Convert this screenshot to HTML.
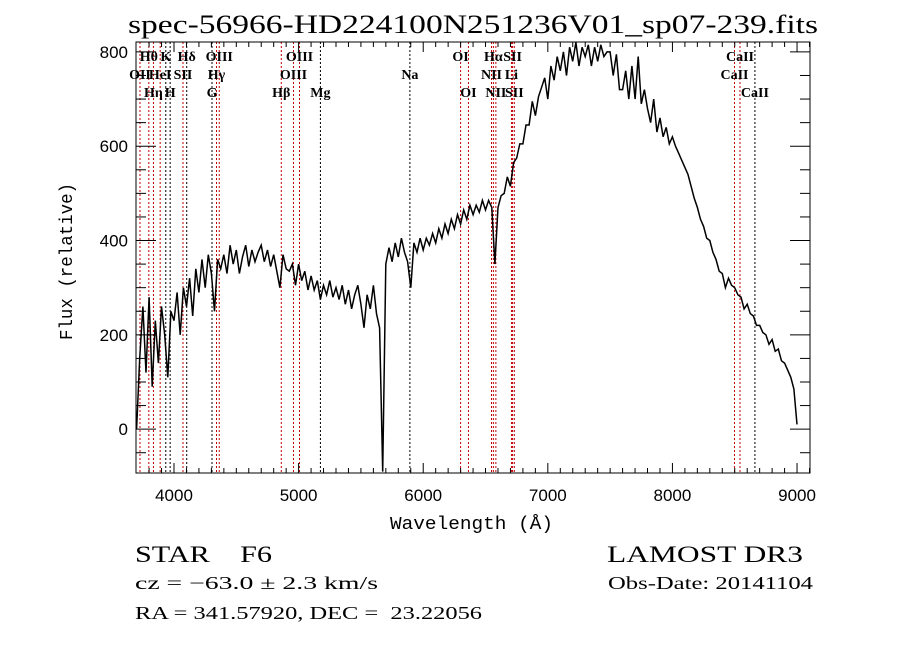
<!DOCTYPE html>
<html><head><meta charset="utf-8"><style>
html,body{margin:0;padding:0;background:#fff;}
svg{display:block;}
text{fill:#000;white-space:pre;}
</style></head><body>
<svg id="chart" width="900" height="649" viewBox="0 0 900 649" xmlns="http://www.w3.org/2000/svg" xml:space="preserve">
<rect width="900" height="649" fill="#fff"/>
<text x="128" y="33" textLength="690" lengthAdjust="spacingAndGlyphs" font-family="Liberation Serif, serif" font-size="26">spec-56966-HD224100N251236V01_sp07-239.fits</text>
<g id="lines"></g>
<g id="labels"></g>
<g id="series"></g>
<rect x="136" y="42" width="674" height="431" fill="none" stroke="#000" stroke-width="1"/>
<g id="axes"></g>
<text x="390" y="529" textLength="163" lengthAdjust="spacingAndGlyphs" font-family="Liberation Mono, monospace" font-size="18">Wavelength (Å)</text>
<text transform="translate(72,340) rotate(-90)" textLength="157" lengthAdjust="spacingAndGlyphs" font-family="Liberation Mono, monospace" font-size="18">Flux (relative)</text>
<text x="135" y="562" textLength="137" lengthAdjust="spacingAndGlyphs" font-family="Liberation Serif, serif" font-size="23">STAR    F6</text>
<text x="135" y="589" textLength="243" lengthAdjust="spacingAndGlyphs" font-family="Liberation Serif, serif" font-size="18">cz = −63.0 ± 2.3 km/s</text>
<text x="135" y="619" textLength="347" lengthAdjust="spacingAndGlyphs" font-family="Liberation Serif, serif" font-size="18">RA = 341.57920, DEC =  23.22056</text>
<text x="607" y="562" textLength="196" lengthAdjust="spacingAndGlyphs" font-family="Liberation Serif, serif" font-size="23">LAMOST DR3</text>
<text x="608" y="589" textLength="205" lengthAdjust="spacingAndGlyphs" font-family="Liberation Serif, serif" font-size="18">Obs-Date: 20141104</text>
</svg>
<script>
const waveStart = 3700;
const waveStep = 25;
const flux = [
0,150,260,120, 280,90,230,140, 260,200,110,250, 230,290,200,300, 260,320,240,340,
290,360,300,370, 330,250,360,340, 370,330,390,350, 380,330,365,390, 345,380,355,375,
390,355,380,345, 370,335,300,370, 340,335,350,305, 350,315,335,295, 325,295,315,275,
305,285,315,280, 300,275,305,265, 295,255,285,305, 265,215,285,255, 305,245,215,-90,
350,385,355,395, 365,405,375,355, 300,395,375,405, 380,405,390,415, 395,425,405,435,
415,445,425,455, 435,465,445,475, 455,475,460,485, 465,485,470,350, 470,495,500,535,
515,565,575,605, 605,645,645,695, 665,705,725,745, 700,770,740,790, 760,800,750,810,
780,820,770,810, 790,815,770,810, 780,815,790,800, 800,750,795,720, 720,760,700,770,
700,790,690,720, 680,650,700,630, 660,620,640,605, 620,600,585,570, 555,540,515,490,
470,445,430,405, 400,375,360,335, 330,300,320,305, 300,285,280,255, 265,245,240,220,
220,205,200,180, 190,165,170,145, 140,125,110,85, 10
];
const lineWaves = [3727,3798,3835,3889,3934,3969,4072,4102,4305,4341,4363,4861,4959,5007,5175,5893,6300,6363,6548,6563,6583,6708,6717,6731,8498,8542,8662];
const lineNames = ["OII","Hθ","Hη","HeI","K","H","SII","Hδ","G","Hγ","OIII","Hβ","OIII","OIII","Mg","Na","OI","OI","NII","Hα","NII","Li","SII","SII","CaII","CaII","CaII"];
const lineRows = [1,0,2,1,0,2,1,0,2,1,0,2,1,0,2,1,0,2,1,0,2,1,0,2,1,0,2];
const lineRed = [1,1,1,1,0,0,1,0,0,1,1,1,1,1,0,0,1,1,1,1,1,1,1,1,1,1,0];
const xTicks = [4000,5000,6000,7000,8000,9000];
const yTicks = [0,200,400,600,800];

const L=136,R=810,T=42,B=473, XMIN=3695, XMAX=9104, YMIN=-93, YMAX=821;
const xs = w => L + (w-XMIN)/(XMAX-XMIN)*(R-L);
const ys = v => B - (v-YMIN)/(YMAX-YMIN)*(B-T);
const NS="http://www.w3.org/2000/svg";
function mk(tag, attrs, parent){const e=document.createElementNS(NS,tag);for(const k in attrs)e.setAttribute(k,attrs[k]);parent.appendChild(e);return e;}

const gL=document.getElementById('lines'), gT=document.getElementById('labels');
lineWaves.forEach((w,i)=>{
  const x=xs(w);
  const ln=mk('line',{x1:x,x2:x,y1:T,y2:B,stroke:lineRed[i]?'#c00000':'#000','stroke-width':1,'stroke-dasharray':'2,2'},gL);
  
  
  const t=mk('text',{x:x,y:61+lineRows[i]*18,'text-anchor':'middle','font-family':'Liberation Serif, serif','font-size':14,'font-weight':'bold'},gT);
  t.textContent=lineNames[i];
  
  
});

const gS=document.getElementById('series');
const pts=flux.map((v,i)=>xs(waveStart+i*waveStep).toFixed(1)+','+ys(v).toFixed(1)).join(' ');
const pl=mk('polyline',{points:pts,fill:'none',stroke:'#000','stroke-width':1.5,'stroke-linejoin':'miter'},gS);



const gA=document.getElementById('axes');
for(let w=3800;w<=9100;w+=100){
  const x=xs(w), major=w%1000===0, len=major?10:5;
  mk('line',{x1:x,x2:x,y1:B,y2:B-len,stroke:'#000'},gA);
  mk('line',{x1:x,x2:x,y1:T,y2:T+len,stroke:'#000'},gA);
}
xTicks.forEach(w=>{
  const t=mk('text',{x:xs(w),y:B+28,'text-anchor':'middle','font-family':'Liberation Sans, sans-serif','font-size':17},gA);
  t.textContent=w;
  
  
});
for(let v=-50;v<=800;v+=50){
  const y=ys(v), major=v%200===0, len=major?20:10;
  mk('line',{x1:L,x2:L+len,y1:y,y2:y,stroke:'#000'},gA);
  mk('line',{x1:R,x2:R-len,y1:y,y2:y,stroke:'#000'},gA);
}
yTicks.forEach(v=>{
  const t=mk('text',{x:L-8,y:ys(v)+6,'text-anchor':'end','font-family':'Liberation Sans, sans-serif','font-size':17},gA);
  t.textContent=v;
  
  
});
</script>
</body></html>
